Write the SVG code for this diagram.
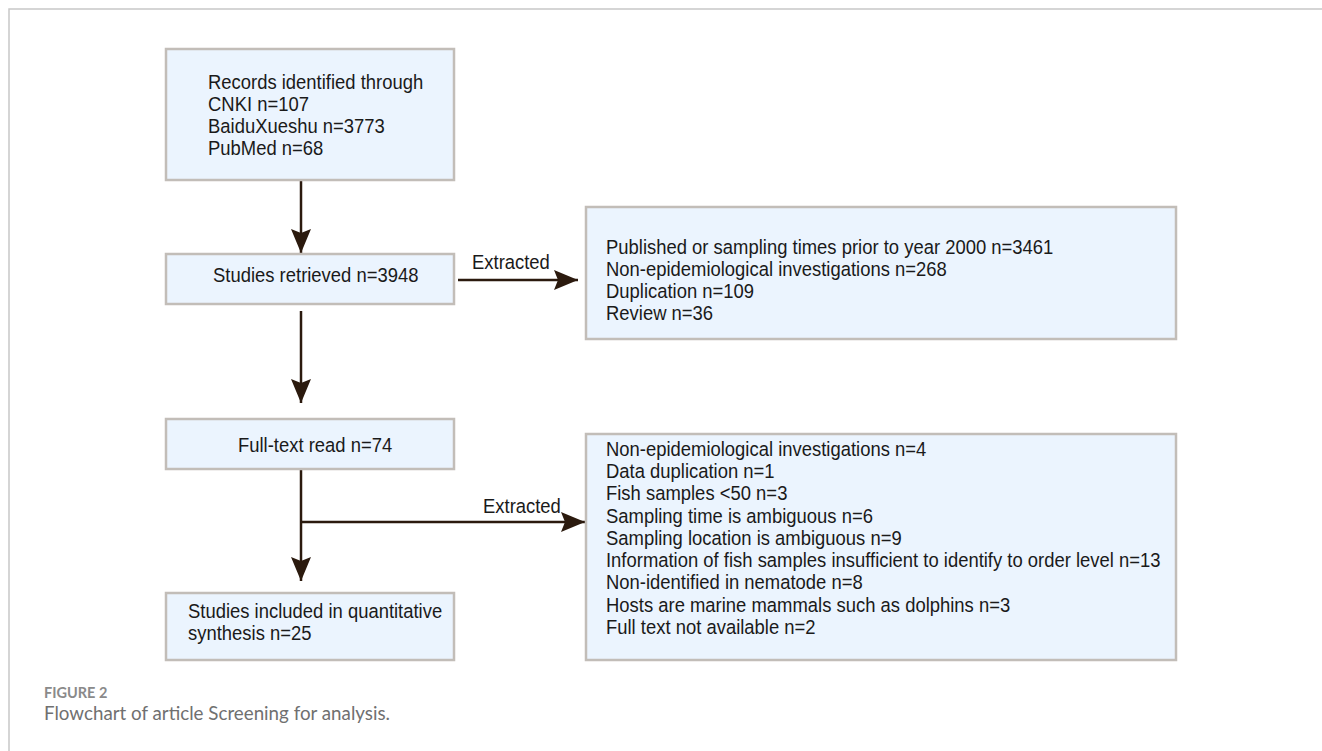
<svg xmlns="http://www.w3.org/2000/svg" width="1322" height="751" viewBox="0 0 1322 751">
<style>
.box{fill:#ebf4fe;stroke:#c2bdb8;stroke-width:2.5}
.t{font-family:"Liberation Sans",Arial,sans-serif;font-size:19.5px;fill:#1a1a1a}
.ln{fill:none;stroke:#2b1a0e;stroke-width:2.5}
.cap{font-family:Lato,"Open Sans",sans-serif}
</style>
<defs>
<marker id="ah" viewBox="0 0 24 20" refX="24" refY="10" markerWidth="24" markerHeight="20" markerUnits="userSpaceOnUse" orient="auto">
<path d="M0,0 L24,10 L0,20 L4,10 Z" fill="#2b1a0e"/>
</marker>
</defs>
<rect width="1322" height="751" fill="#ffffff"/>
<path d="M9,751 V9 H1322" fill="none" stroke="#c8c8c8" stroke-width="1.5"/>
<g id="connectors">
<line class="ln" x1="301" y1="181" x2="301" y2="253" marker-end="url(#ah)"/>
<line class="ln" x1="458" y1="280" x2="578" y2="280" marker-end="url(#ah)"/>
<line class="ln" x1="301" y1="311" x2="301" y2="403" marker-end="url(#ah)"/>
<line class="ln" x1="301" y1="470" x2="301" y2="581" marker-end="url(#ah)"/>
<line class="ln" x1="301" y1="522" x2="585" y2="522" marker-end="url(#ah)"/>
<g transform="translate(472 0) scale(0.946 1)"><text class="t" x="0" y="269">Extracted</text></g>
<g transform="translate(483 0) scale(0.946 1)"><text class="t" x="0" y="513">Extracted</text></g>
</g>
<g id="records">
<rect class="box" x="166" y="49" width="288" height="131"/>
<g transform="translate(208 0) scale(0.946 1)">
<text class="t" x="0" y="89">Records identified through</text>
<text class="t" x="0" y="111">CNKI n=107</text>
<text class="t" x="0" y="133">BaiduXueshu n=3773</text>
<text class="t" x="0" y="155">PubMed n=68</text>
</g>
</g>
<g id="retrieved">
<rect class="box" x="166" y="254" width="288" height="50"/>
<g transform="translate(213 0) scale(0.946 1)"><text class="t" x="0" y="282">Studies retrieved n=3948</text></g>
</g>
<g id="excluded1">
<rect class="box" x="586" y="207" width="590" height="132"/>
<g transform="translate(606 0) scale(0.946 1)">
<text class="t" x="0" y="254">Published or sampling times prior to year 2000 n=3461</text>
<text class="t" x="0" y="276">Non-epidemiological investigations n=268</text>
<text class="t" x="0" y="298">Duplication n=109</text>
<text class="t" x="0" y="320">Review n=36</text>
</g>
</g>
<g id="fulltext">
<rect class="box" x="166" y="419" width="288" height="50"/>
<g transform="translate(238 0) scale(0.946 1)"><text class="t" x="0" y="452">Full-text read n=74</text></g>
</g>
<g id="excluded2">
<rect class="box" x="586" y="434" width="590" height="226"/>
<g transform="translate(606 0) scale(0.946 1)">
<text class="t" x="0" y="456">Non-epidemiological investigations n=4</text>
<text class="t" x="0" y="478">Data duplication n=1</text>
<text class="t" x="0" y="500">Fish samples &lt;50 n=3</text>
<text class="t" x="0" y="523">Sampling time is ambiguous n=6</text>
<text class="t" x="0" y="545">Sampling location is ambiguous n=9</text>
<text class="t" x="0" y="567">Information of fish samples insufficient to identify to order level n=13</text>
<text class="t" x="0" y="589">Non-identified in nematode n=8</text>
<text class="t" x="0" y="612">Hosts are marine mammals such as dolphins n=3</text>
<text class="t" x="0" y="634">Full text not available n=2</text>
</g>
</g>
<g id="included">
<rect class="box" x="166" y="593" width="288" height="67"/>
<g transform="translate(188 0) scale(0.946 1)">
<text class="t" x="0" y="618">Studies included in quantitative</text>
<text class="t" x="0" y="640">synthesis n=25</text>
</g>
</g>
<g id="caption">
<text class="cap" x="44" y="698" font-size="14.5" font-weight="700" fill="#8a8a8a">FIGURE 2</text>
<text class="cap" x="44" y="720" font-size="18.5" fill="#707070" textLength="346" lengthAdjust="spacingAndGlyphs">Flowchart of article Screening for analysis.</text>
</g>
</svg>
